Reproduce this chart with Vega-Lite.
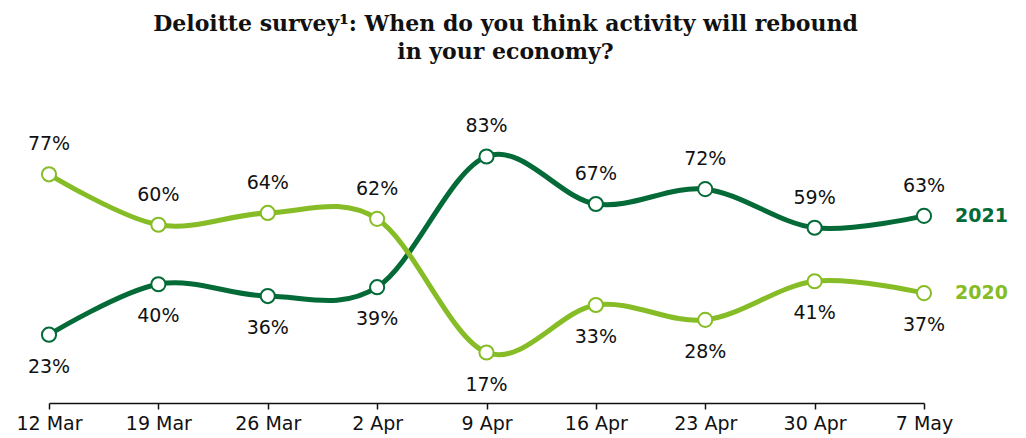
{
  "$schema": "https://vega.github.io/schema/vega-lite/v6.json",
  "autosize": "none",
  "width": 875,
  "height": 297,
  "padding": {"left": 49, "top": 106, "right": 102, "bottom": 35},
  "background": "white",
  "title": {
    "text": ["Deloitte survey¹: When do you think activity will rebound", "in your economy?"],
    "font": "DejaVu Serif",
    "fontSize": 22,
    "fontWeight": "bold",
    "color": "#111111",
    "anchor": "middle",
    "frame": "group",
    "dx": 19,
    "offset": 42,
    "lineHeight": 28
  },
  "config": {"view": {"stroke": null}},
  "data": {
    "values": [
      {"week": "12 Mar", "series": "2021", "value": 23},
      {"week": "19 Mar", "series": "2021", "value": 40},
      {"week": "26 Mar", "series": "2021", "value": 36},
      {"week": "2 Apr", "series": "2021", "value": 39},
      {"week": "9 Apr", "series": "2021", "value": 83},
      {"week": "16 Apr", "series": "2021", "value": 67},
      {"week": "23 Apr", "series": "2021", "value": 72},
      {"week": "30 Apr", "series": "2021", "value": 59},
      {"week": "7 May", "series": "2021", "value": 63},
      {"week": "12 Mar", "series": "2020", "value": 77},
      {"week": "19 Mar", "series": "2020", "value": 60},
      {"week": "26 Mar", "series": "2020", "value": 64},
      {"week": "2 Apr", "series": "2020", "value": 62},
      {"week": "9 Apr", "series": "2020", "value": 17},
      {"week": "16 Apr", "series": "2020", "value": 33},
      {"week": "23 Apr", "series": "2020", "value": 28},
      {"week": "30 Apr", "series": "2020", "value": 41},
      {"week": "7 May", "series": "2020", "value": 37}
    ]
  },
  "transform": [
    {"joinaggregate": [{"op": "max", "field": "value", "as": "wmax"}], "groupby": ["week"]},
    {"calculate": "datum.value + '%'", "as": "label"}
  ],
  "encoding": {
    "x": {
      "field": "week",
      "type": "ordinal",
      "sort": null,
      "scale": {"type": "point", "padding": 0},
      "axis": {
        "title": null,
        "labelAngle": 0,
        "labelFont": "DejaVu Sans",
        "labelFontSize": 19,
        "labelColor": "#111111",
        "labelPadding": 5,
        "domainColor": "#111111",
        "domainWidth": 1.5,
        "tickColor": "#111111",
        "tickWidth": 1.5,
        "tickSize": 6,
        "grid": false
      }
    },
    "y": {
      "field": "value",
      "type": "quantitative",
      "scale": {"domain": [0, 100], "nice": false, "zero": true},
      "axis": null
    },
    "color": {
      "field": "series",
      "type": "nominal",
      "scale": {"domain": ["2021", "2020"], "range": ["#046A38", "#86BC25"]},
      "legend": null
    }
  },
  "layer": [
    {
      "mark": {"type": "line", "interpolate": "cardinal", "strokeWidth": 5}
    },
    {
      "mark": {"type": "point", "shape": "circle", "filled": true, "fill": "white", "size": 200, "strokeWidth": 2, "opacity": 1},
      "encoding": {"stroke": {"field": "series", "type": "nominal", "scale": {"domain": ["2021", "2020"], "range": ["#046A38", "#86BC25"]}, "legend": null}}
    },
    {
      "transform": [{"filter": "datum.value == datum.wmax"}],
      "mark": {"type": "text", "font": "DejaVu Sans", "fontSize": 19, "dy": -30, "baseline": "middle", "align": "center"},
      "encoding": {"text": {"field": "label"}, "color": {"value": "#111111"}}
    },
    {
      "transform": [{"filter": "datum.value != datum.wmax"}],
      "mark": {"type": "text", "font": "DejaVu Sans", "fontSize": 19, "dy": 32, "baseline": "middle", "align": "center"},
      "encoding": {"text": {"field": "label"}, "color": {"value": "#111111"}}
    },
    {
      "transform": [{"filter": "datum.week == '7 May'"}],
      "mark": {"type": "text", "font": "DejaVu Sans", "fontSize": 19, "fontWeight": "bold", "dx": 31, "baseline": "middle", "align": "left"},
      "encoding": {"text": {"field": "series"}}
    }
  ]
}
